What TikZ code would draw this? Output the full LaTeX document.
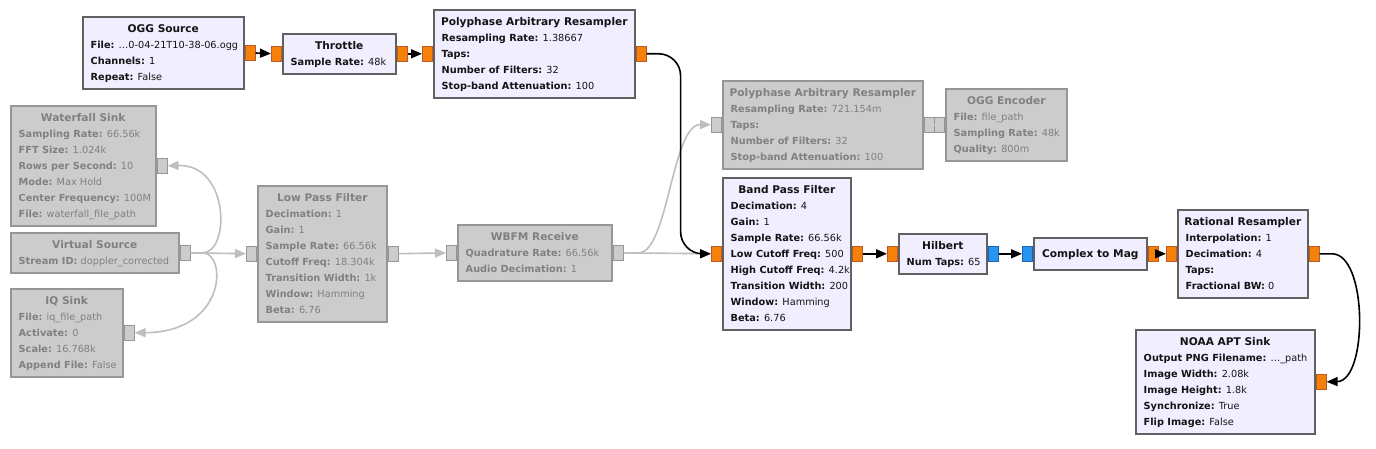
\documentclass[tikz,border=0pt]{standalone}
\usepackage{fontspec}
\setmainfont{DejaVu Sans}
\usetikzlibrary{arrows.meta,calc}
\definecolor{blkfill}{RGB}{241,238,255}
\definecolor{blkdraw}{RGB}{97,97,97}
\definecolor{dfill}{RGB}{204,204,204}
\definecolor{ddraw}{RGB}{150,150,150}
\definecolor{dtext}{RGB}{128,128,128}
\definecolor{atext}{RGB}{20,20,20}
\definecolor{orfill}{RGB}{245,128,10}
\definecolor{ordraw}{RGB}{190,90,40}
\definecolor{blfill}{RGB}{40,150,240}
\definecolor{bldraw}{RGB}{30,100,180}
\definecolor{dline}{RGB}{190,190,190}
\tikzset{
  blk-a/.style={draw=blkdraw, fill=blkfill, line width=1.6pt, rectangle, inner sep=0pt, anchor=north west},
  blk-d/.style={draw=ddraw, fill=dfill, line width=1.6pt, rectangle, inner sep=0pt, anchor=north west},
  txt-a/.style={text=atext, font=\fontsize{10.6}{12}\selectfont, inner sep=0pt},
  txt-d/.style={text=dtext, font=\fontsize{10.6}{12}\selectfont, inner sep=0pt},
  prm-a/.style={text=atext, font=\fontsize{9.75}{12}\selectfont, inner sep=0pt},
  prm-d/.style={text=dtext, font=\fontsize{9.75}{12}\selectfont, inner sep=0pt},
  port-o/.style={draw=ordraw, fill=orfill, minimum width=10pt, minimum height=15pt, inner sep=0pt, line width=1pt},
  port-b/.style={draw=bldraw, fill=blfill, minimum width=10pt, minimum height=15pt, inner sep=0pt, line width=1pt},
  port-d/.style={draw=ddraw, fill=dfill, minimum width=10pt, minimum height=15pt, inner sep=0pt, line width=1pt},
  conn-a/.style={draw=black, line width=1.6pt, -{Triangle[length=11pt,width=9pt]}},
  conn-d/.style={draw=dline, line width=1.6pt, -{Triangle[length=11pt,width=9pt]}},
}
% name, kind (a/d), x, y, w, h, title, params
\newcommand\grcblk[8]{%
  \node[blk-#2, minimum width=#5pt, minimum height=#6pt] (#1) at (#3,#4) {};
  \node[txt-#2, anchor=base] (#1-t) at ($(#1.north)+(0,16.5)$) {\textbf{#7}};
  \foreach \pline [count=\pidx] in {#8} {
    \node[prm-#2, anchor=base west] (#1-p\pidx) at ($(#1.north west)+(8.5,16.5+16*\pidx)$) {\pline};
  }
}
\begin{document}
\begin{tikzpicture}[x=1pt,y=-1pt]
\useasboundingbox (0,0) rectangle (1376,449);

% ---------- blocks ----------
\grcblk{ogg}{a}{82}{16}{161}{72}{OGG Source}{{\textbf{File:} …0-04-21T10-38-06.ogg},{\textbf{Channels:} 1},{\textbf{Repeat:} False}}
\grcblk{thr}{a}{282}{33}{113}{40}{Throttle}{{\textbf{Sample Rate:} 48k}}
\grcblk{pp1}{a}{433}{9}{201}{88}{Polyphase Arbitrary Resampler}{{\textbf{Resampling Rate:} 1.38667},{\textbf{Taps:}},{\textbf{Number of Filters:} 32},{\textbf{Stop-band Attenuation:} 100}}
\grcblk{wf}{d}{10}{105}{145}{120}{Waterfall Sink}{{\textbf{Sampling Rate:} 66.56k},{\textbf{FFT Size:} 1.024k},{\textbf{Rows per Second:} 10},{\textbf{Mode:} Max Hold},{\textbf{Center Frequency:} 100M},{\textbf{File:} waterfall\_file\_path}}
\grcblk{vsrc}{d}{10}{232}{168}{40}{Virtual Source}{{\textbf{Stream ID:} doppler\_corrected}}
\grcblk{iq}{d}{10}{288}{112}{88}{IQ Sink}{{\textbf{File:} iq\_file\_path},{\textbf{Activate:} 0},{\textbf{Scale:} 16.768k},{\textbf{Append File:} False}}
\grcblk{lpf}{d}{257}{185}{129}{136}{Low Pass Filter}{{\textbf{Decimation:} 1},{\textbf{Gain:} 1},{\textbf{Sample Rate:} 66.56k},{\textbf{Cutoff Freq:} 18.304k},{\textbf{Transition Width:} 1k},{\textbf{Window:} Hamming},{\textbf{Beta:} 6.76}}
\grcblk{wbfm}{d}{457}{224}{154}{56}{WBFM Receive}{{\textbf{Quadrature Rate:} 66.56k},{\textbf{Audio Decimation:} 1}}
\grcblk{pp2}{d}{722}{80}{200}{88}{Polyphase Arbitrary Resampler}{{\textbf{Resampling Rate:} 721.154m},{\textbf{Taps:}},{\textbf{Number of Filters:} 32},{\textbf{Stop-band Attenuation:} 100}}
\grcblk{oge}{d}{945}{88}{121}{72}{OGG Encoder}{{\textbf{File:} file\_path},{\textbf{Sampling Rate:} 48k},{\textbf{Quality:} 800m}}
\grcblk{bpf}{a}{722}{177}{128}{152}{Band Pass Filter}{{\textbf{Decimation:} 4},{\textbf{Gain:} 1},{\textbf{Sample Rate:} 66.56k},{\textbf{Low Cutoff Freq:} 500},{\textbf{High Cutoff Freq:} 4.2k},{\textbf{Transition Width:} 200},{\textbf{Window:} Hamming},{\textbf{Beta:} 6.76}}
\grcblk{hil}{a}{898}{233}{88}{40}{Hilbert}{{\textbf{Num Taps:} 65}}
\node[blk-a, minimum width=113pt, minimum height=32pt] (c2m) at (1033,237) {};
\node[txt-a, anchor=base] (c2m-t) at ($(c2m.center)+(0,4)$) {\textbf{Complex to Mag}};
\grcblk{rr}{a}{1177}{209}{130}{88}{Rational Resampler}{{\textbf{Interpolation:} 1},{\textbf{Decimation:} 4},{\textbf{Taps:}},{\textbf{Fractional BW:} 0}}
\grcblk{noaa}{a}{1135}{329}{179}{104}{NOAA APT Sink}{{\textbf{Output PNG Filename:} …\_path},{\textbf{Image Width:} 2.08k},{\textbf{Image Height:} 1.8k},{\textbf{Synchronize:} True},{\textbf{Flip Image:} False}}

% ---------- ports ----------
\node[port-o, anchor=west] (ogg-o) at (ogg.east) {};
\node[port-o, anchor=east] (thr-i) at (thr.west) {};
\node[port-o, anchor=west] (thr-o) at (thr.east) {};
\node[port-o, anchor=east] (pp1-i) at (pp1.west) {};
\node[port-o, anchor=west] (pp1-o) at (pp1.east) {};
\node[port-d, anchor=west] (wf-i) at (wf.east) {};
\node[port-d, anchor=west] (vsrc-o) at (vsrc.east) {};
\node[port-d, anchor=west] (iq-i) at (iq.east) {};
\node[port-d, anchor=east] (lpf-i) at (lpf.west) {};
\node[port-d, anchor=west] (lpf-o) at (lpf.east) {};
\node[port-d, anchor=east] (wbfm-i) at (wbfm.west) {};
\node[port-d, anchor=west] (wbfm-o) at (wbfm.east) {};
\node[port-d, anchor=east] (pp2-i) at (pp2.west) {};
\node[port-d, anchor=west] (pp2-o) at (pp2.east) {};
\node[port-d, anchor=east] (oge-i) at (oge.west) {};
\node[port-o, anchor=east] (bpf-i) at (bpf.west) {};
\node[port-o, anchor=west] (bpf-o) at (bpf.east) {};
\node[port-o, anchor=east] (hil-i) at (hil.west) {};
\node[port-b, anchor=west] (hil-o) at (hil.east) {};
\node[port-b, anchor=east] (c2m-i) at (c2m.west) {};
\node[port-o, anchor=west] (c2m-o) at (c2m.east) {};
\node[port-o, anchor=east] (rr-i) at (rr.west) {};
\node[port-o, anchor=west] (rr-o) at (rr.east) {};
\node[port-o, anchor=west] (noaa-i) at (noaa.east) {};

% ---------- disabled connections ----------
\draw[conn-d] (vsrc-o) -- (lpf-i);
\draw[conn-d] (vsrc-o.east) -- ++(12,0) .. controls (230,253) and (230,164) .. (wf-i.east);
\draw[conn-d] (vsrc-o.east) -- ++(12,0) .. controls (227,253) and (227,332) .. (iq-i.east);
\draw[conn-d] (lpf-o) -- (wbfm-i);
\draw[conn-d] (wbfm-o) -- (bpf-i);
\draw[conn-d] (wbfm-o.east) -- ++(15,0) .. controls (668,253) and (672,124) .. (pp2-i.west);
\draw[draw=dline, line width=1.6pt] (pp2-o) -- (oge-i);

% ---------- active connections ----------
\draw[conn-a] (ogg-o) -- (thr-i);
\draw[conn-a] (thr-o) -- (pp1-i);
\draw[conn-a, rounded corners=22pt] (pp1-o.east) -- ++(34,0) |- (bpf-i.west);
\draw[conn-a] (bpf-o) -- (hil-i);
\draw[conn-a] (hil-o) -- (c2m-i);
\draw[conn-a] (c2m-o) -- (rr-i);
\draw[conn-a] (rr-o.east) -- ++(12,0) .. controls (1368,253) and (1368,381) .. (noaa-i.east);
\end{tikzpicture}
\end{document}
